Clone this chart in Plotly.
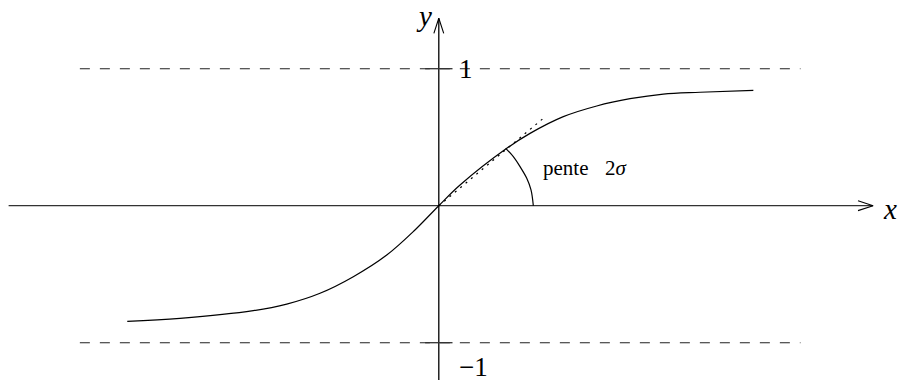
import plotly.graph_objects as go

# Sigmoid curve, sampled points (x, y)
curve_x = [-2.274, -1.889, -1.354, -1.110, -0.867, -0.624, -0.380, -0.174, 0.0,
           0.155, 0.496, 0.666, 0.909, 1.153, 1.396, 1.639, 1.907, 2.296]
curve_y = [-0.844, -0.822, -0.766, -0.718, -0.639, -0.518, -0.360, -0.177, 0.0,
           0.151, 0.419, 0.528, 0.650, 0.728, 0.781, 0.815, 0.828, 0.842]

# Tangent at the origin (dotted)
tangent_x = [0.0, 0.763]
tangent_y = [0.0, 0.638]

# Angle arc between the x axis and the tangent
arc_x = [0.690, 0.673, 0.642, 0.593, 0.544, 0.488]
arc_y = [0.0, 0.115, 0.200, 0.285, 0.358, 0.419]

# Horizontal asymptotes
asymptote_levels = [1, -1]
asymptote_span = [-2.62, 2.64]
asymptote_labels = ["1", "\u22121"]

# Axis extents and arrow heads
x_axis_span = [-3.14, 3.17]
y_axis_span = [-1.272, 1.368]
tick_half = 0.1
head_len = 0.11
head_half = 0.036

INK = "black"
SERIF = "Liberation Serif"

fig = go.Figure()


def line(xs, ys, width=1.0, dash="solid", color=INK, shape="linear"):
    fig.add_trace(go.Scatter(x=xs, y=ys, mode="lines",
                             line=dict(color=color, width=width, dash=dash, shape=shape),
                             hoverinfo="skip"))


# Dashed asymptotes
for lvl in asymptote_levels:
    line(asymptote_span, [lvl, lvl], width=1.1, dash="10px,10px", color="#222")

# Axes
line(x_axis_span, [0, 0], width=1.3, color="#333")
line([0, 0], y_axis_span, width=1.3)

# Arrow heads (open barbs)
xt = x_axis_span[1]
line([xt - head_len, xt, xt - head_len], [head_half, 0, -head_half], width=1.1)
yt = y_axis_span[1]
line([-head_half, 0, head_half], [yt - head_len, yt, yt - head_len], width=1.1)

# Ticks on the y axis at the asymptote levels
for lvl in asymptote_levels:
    line([-tick_half, tick_half], [lvl, lvl], width=1.3, color="#333")

# Curve, tangent and arc
line(curve_x, curve_y, width=1.2, shape="spline")
line(tangent_x, tangent_y, width=1.2, dash="2px,5px")
line(arc_x, arc_y, width=1.2, shape="spline")

annotations = [
    dict(x=0.13, y=asymptote_levels[0], text=asymptote_labels[0],
         xanchor="left", yanchor="middle", font=dict(size=27)),
    dict(x=0.13, y=-1.174, text=asymptote_labels[1],
         xanchor="left", yanchor="middle", font=dict(size=27)),
    dict(x=-0.108, y=1.384, text="<i>y</i>", xanchor="center", yanchor="middle",
         font=dict(size=29)),
    dict(x=3.295, y=-0.024, text="<i>x</i>", xanchor="center", yanchor="middle",
         font=dict(size=29)),
    dict(x=0.749, y=0.275, text="pente", xanchor="left", yanchor="middle",
         font=dict(size=21)),
    dict(x=1.199, y=0.275, text="2<i>\u03c3</i>", xanchor="left", yanchor="middle",
         font=dict(size=21)),
]
for a in annotations:
    a.update(xref="x", yref="y", showarrow=False)
    a["font"].update(family=SERIF, color=INK)

fig.update_layout(
    width=904, height=382,
    margin=dict(l=0, r=0, t=0, b=0),
    paper_bgcolor="white", plot_bgcolor="white",
    showlegend=False,
    xaxis=dict(range=[-3.2029, 3.3956], visible=False, fixedrange=True),
    yaxis=dict(range=[-1.2869, 1.5015], visible=False, fixedrange=True),
    annotations=annotations,
)

fig.write_html("out.html")
